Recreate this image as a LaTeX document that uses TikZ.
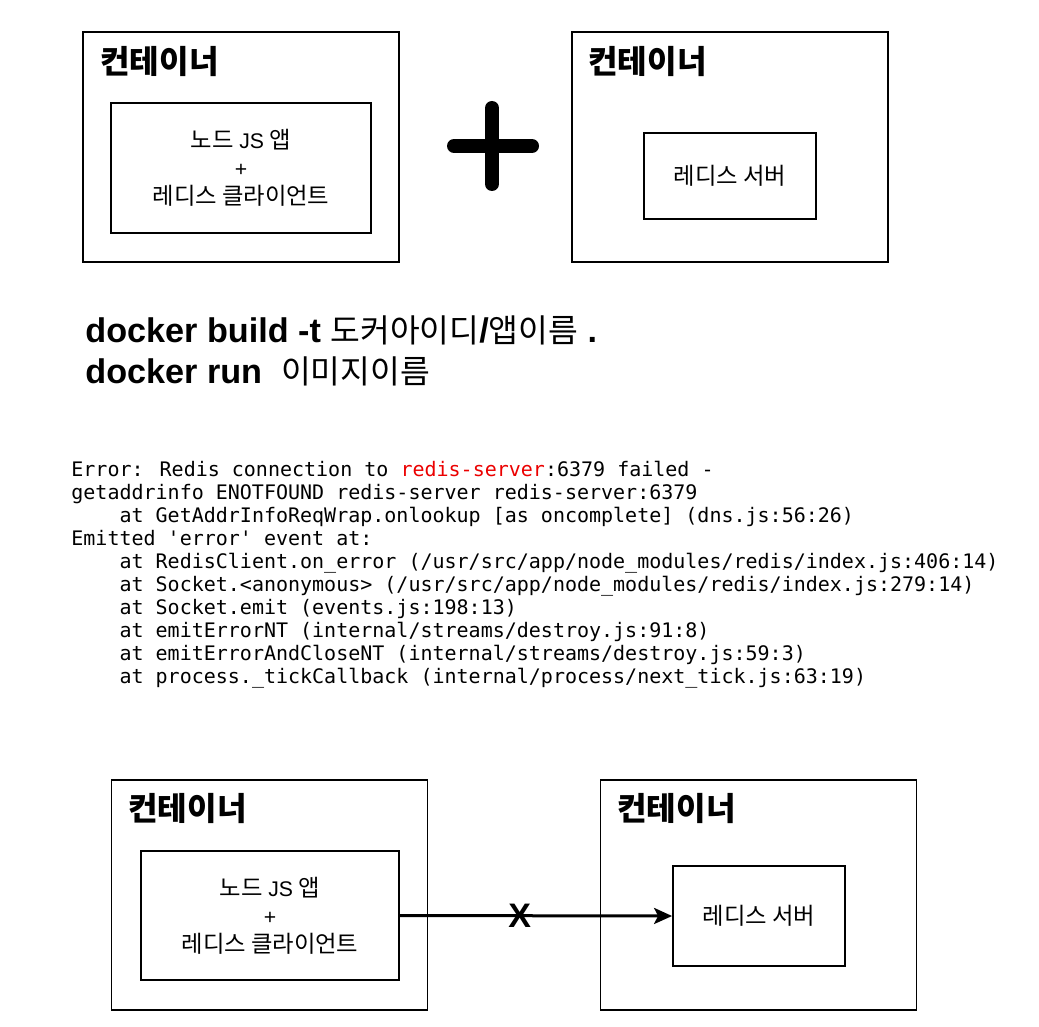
\documentclass[tikz,border=0pt]{standalone}
\usepackage{fontspec}
\usetikzlibrary{arrows.meta}
\setmainfont{Liberation Sans}
\newfontfamily\kr{Noto Sans CJK KR}[Scale=1.1]
\newfontfamily\mono{DejaVu Sans Mono}
\definecolor{errred}{RGB}{235,0,0}
\newcommand{\krcmd}[1]{{\kr\mdseries\fontsize{14.7}{19}\selectfont #1}}
\begin{document}
\begin{tikzpicture}[x=0.5pt,y=-0.5pt,
  box/.style={draw, line width=0.9pt, inner sep=0pt},
  outerbox/.style={box, minimum width=158pt, minimum height=115pt},
  title/.style={anchor=west, inner sep=0pt, font=\kr\bfseries\fontsize{14.6}{17}\selectfont},
  lbl/.style={align=center, font=\fontsize{10.6}{14}\selectfont},
  code/.style={anchor=base west, inner sep=0pt, font=\mono\fontsize{10}{11.5}\selectfont},
  cmd/.style={anchor=base west, inner sep=0pt, font=\fontsize{17.1}{20}\selectfont},
  plusbar/.style={line width=7pt, line cap=round},
]
\useasboundingbox (0,0) rectangle (1039,1027);

% ---- top row ----
\node[outerbox] (c1) at (241,147) {};
\node[title] (t1) at (100,61.5) {컨테이너};
\node[box, lbl, minimum width=130pt, minimum height=65pt] (app1) at (241,168)
  {{\kr 노드} JS {\kr 앱}\\+\\{\kr 레디스 클라이언트}};

\coordinate (pl) at (454,146);
\coordinate (pr) at (532,146);
\coordinate (pt) at (492,108);
\coordinate (pb) at (492,184);
\draw[plusbar] (pl) -- (pr);
\draw[plusbar] (pt) -- (pb);

\node[outerbox] (c2) at (730,147) {};
\node[title] (t2) at (588,61.5) {컨테이너};
\node[box, lbl, minimum width=86pt, minimum height=43pt] (srv1) at (730,176)
  {{\kr 레디스 서버}};

% ---- commands ----
\node[cmd] (cmd1) at (85,343) {\bfseries docker build -t \krcmd{도커아이디}/\krcmd{앱이름} .};
\node[cmd] (cmd2) at (85,383) {\bfseries docker run\ \ \krcmd{이미지이름}};

% ---- error log ----
\node[code] (e1) at (71,476) {Error: Redis connection to {\color{errred}redis-server}:6379 failed -};
\node[code] (e2) at (71,499) {getaddrinfo ENOTFOUND redis-server redis-server:6379};
\node[code] (e3) at (71,522) {\phantom{0000}at GetAddrInfoReqWrap.onlookup [as oncomplete] (dns.js:56:26)};
\node[code] (e4) at (71,545) {Emitted \textquotesingle error\textquotesingle\ event at:};
\node[code] (e5) at (71,568) {\phantom{0000}at RedisClient.on\textunderscore error (/usr/src/app/node\textunderscore modules/redis/index.js:406:14)};
\node[code] (e6) at (71,591) {\phantom{0000}at Socket.<anonymous> (/usr/src/app/node\textunderscore modules/redis/index.js:279:14)};
\node[code] (e7) at (71,614) {\phantom{0000}at Socket.emit (events.js:198:13)};
\node[code] (e8) at (71,637) {\phantom{0000}at emitErrorNT (internal/streams/destroy.js:91:8)};
\node[code] (e9) at (71,660) {\phantom{0000}at emitErrorAndCloseNT (internal/streams/destroy.js:59:3)};
\node[code] (e10) at (71,683) {\phantom{0000}at process.\textunderscore tickCallback (internal/process/next\textunderscore tick.js:63:19)};

% ---- bottom row ----
\node[outerbox] (c3) at (269.5,895) {};
\node[title] (t3) at (128,808) {컨테이너};
\node[box, lbl, minimum width=129pt, minimum height=64.5pt] (app2) at (270,915.5)
  {{\kr 노드} JS {\kr 앱}\\+\\{\kr 레디스 클라이언트}};

\node[outerbox] (c4) at (758.5,895) {};
\node[title] (t4) at (617,808) {컨테이너};
\node[box, lbl, minimum width=86pt, minimum height=50pt] (srv2) at (759,916)
  {{\kr 레디스 서버}};

\draw[line width=1.5pt, -{Stealth[length=9pt,width=8pt,inset=2pt]}] (app2.east) -- (srv2.west)
  node[pos=0.44, inner sep=0pt, font=\bfseries\fontsize{17}{20}\selectfont] (xmark) {X};
\end{tikzpicture}
\end{document}
